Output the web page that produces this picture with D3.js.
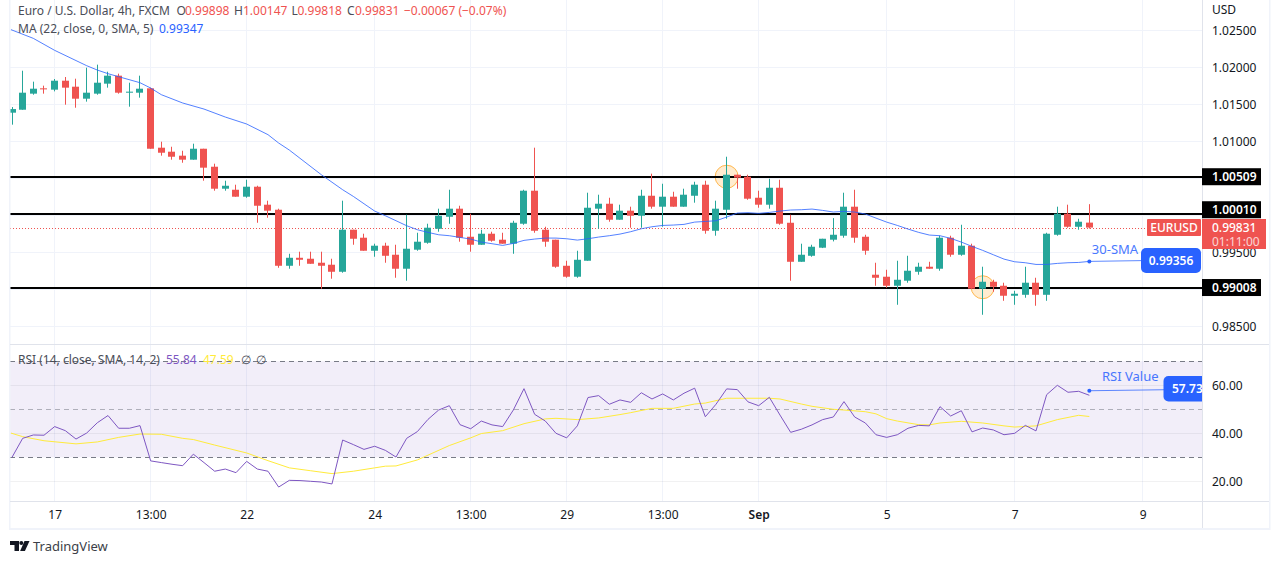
<!DOCTYPE html>
<html>
<head>
<meta charset="utf-8">
<script src="https://cdnjs.cloudflare.com/ajax/libs/d3/7.8.5/d3.min.js"></script>
<style>
  html, body { margin: 0; padding: 0; background: #fff; }
  svg { display: block; font-family: "Noto Sans", sans-serif; }
  .axis path, .axis line { display: none; }
  .axis text { fill: #131722; font-size: 12px; font-family: "Noto Sans", sans-serif; }
</style>
</head>
<body>
<svg id="chart" width="1274" height="564"></svg>
<script>
// ---- candles (bar 0 = first candle on the left)
const opens = [1.01383,1.01423,1.01640,1.01712,1.01694,1.01815,1.01734,1.01572,1.01640,1.01775,1.01883,1.01653,1.01653,1.01712,1.00910,1.00856,1.00802,1.00748,1.00896,1.00653,1.00356,1.00342,1.00248,1.00383,1.00140,1.00072,0.99315,0.99423,0.99410,0.99356,0.99329,0.99234,0.99802,0.99694,0.99518,0.99586,0.99464,0.99275,0.99532,0.99626,0.99815,0.99977,1.00086,0.99707,0.99599,0.99748,0.99667,0.99613,0.99883,1.00329,0.99802,0.99667,0.99315,0.99167,0.99383,1.00086,1.00153,0.99937,1.00059,0.99991,1.00261,1.00113,1.00248,1.00113,1.00261,1.00410,0.99788,1.00072,1.00545,1.00518,1.00234,1.00140,1.00369,0.99896,0.99369,0.99450,0.99559,0.99667,0.99721,1.00113,0.99707,0.99194,0.99167,0.99045,0.99113,0.99234,0.99302,0.99275,0.99694,0.99464,0.99586,0.99005,0.99099,0.99045,0.98910,0.98923,0.99086,0.98923,0.99734,1.00018,0.99842,0.99898];
const highs = [1.01459,1.01950,1.01802,1.01748,1.01838,1.01865,1.01842,1.01991,1.02032,1.01937,1.01910,1.01788,1.01883,1.01721,1.00991,1.00923,1.00869,1.00964,1.00896,1.00694,1.00464,1.00410,1.00477,1.00396,1.00194,1.00086,0.99477,0.99505,0.99505,0.99505,0.99410,1.00194,0.99802,0.99748,0.99613,0.99626,0.99599,1.00005,0.99761,0.99883,1.00086,1.00342,1.00126,1.00018,0.99802,0.99775,0.99761,0.99923,1.00342,1.00910,0.99842,0.99667,0.99383,0.99518,1.00302,1.00275,1.00234,1.00140,1.00113,1.00342,1.00559,1.00423,1.00315,1.00356,1.00450,1.00464,1.00194,1.00788,1.00545,1.00545,1.00329,1.00491,1.00477,1.00005,0.99613,0.99599,0.99680,0.99959,1.00302,1.00342,0.99734,0.99356,0.99261,0.99383,0.99450,0.99356,0.99369,0.99721,0.99721,0.99869,0.99613,0.99302,0.99126,0.99086,0.98977,0.99302,0.99153,0.99761,1.00113,1.00140,0.99950,1.00147];
const lows = [1.01221,1.01423,1.01626,1.01640,1.01671,1.01491,1.01450,1.01532,1.01626,1.01721,1.01640,1.01464,1.01586,1.00896,1.00802,1.00748,1.00707,1.00748,1.00464,1.00329,1.00329,1.00248,1.00234,0.99896,0.99964,0.99288,0.99275,0.99315,0.99342,0.99005,0.99140,0.99221,0.99599,0.99518,0.99437,0.99356,0.99153,0.99113,0.99518,0.99613,0.99775,0.99883,0.99640,0.99505,0.99599,0.99640,0.99613,0.99477,0.99869,0.99761,0.99572,0.99288,0.99153,0.99153,0.99383,0.99815,0.99910,0.99937,0.99829,0.99829,1.00086,0.99842,1.00113,1.00113,1.00167,0.99748,0.99721,0.99950,1.00356,1.00207,1.00099,1.00086,0.99869,0.99113,0.99369,0.99437,0.99554,0.99644,0.99694,0.99626,0.99464,0.99045,0.99018,0.98788,0.99086,0.99194,0.99275,0.99248,0.99437,0.99450,0.99005,0.98653,0.98964,0.98842,0.98788,0.98883,0.98775,0.98842,0.99721,0.99829,0.99802,0.99818];
const closes = [1.01432,1.01653,1.01707,1.01698,1.01815,1.01721,1.01572,1.01653,1.01788,1.01883,1.01653,1.01667,1.01707,1.00896,1.00842,1.00788,1.00748,1.00896,1.00640,1.00356,1.00396,1.00248,1.00383,1.00126,1.00059,0.99315,0.99423,0.99396,0.99342,0.99315,0.99234,0.99802,0.99680,0.99518,0.99586,0.99450,0.99275,0.99545,0.99640,0.99829,0.99991,1.00086,0.99694,0.99599,0.99748,0.99653,0.99613,0.99896,1.00329,0.99788,0.99640,0.99302,0.99167,0.99396,1.00099,1.00153,0.99937,1.00059,0.99991,1.00261,1.00113,1.00248,1.00113,1.00275,1.00410,0.99788,1.00086,1.00545,1.00505,1.00221,1.00140,1.00369,0.99883,0.99369,0.99464,0.99572,0.99680,0.99734,1.00113,0.99694,0.99518,0.99153,0.99045,0.99126,0.99248,0.99302,0.99275,0.99694,0.99464,0.99586,0.99005,0.99099,0.99032,0.98910,0.98937,0.99086,0.98923,0.99748,1.00018,0.99842,0.99910,0.99831];

// ---- moving average on the price pane
const maBars = [-0.1,2,4,7,8,9,10,12,13,14,16,18,20,22,24,25,26,29,31,32,34,35,37,38,39,40,41,42,43,44,45,46,47,48,49,50,51,52,53,54,55,56,57,58,59,60,61,62,63,64,65,66,67,68,69,70,71,72,73,74,75,76,77,78,79,80,81,82,83,84,85,86,87,88,89,90,91,92,93,94,95,96,97,98,99,100,101];
const maValues = [1.02505,1.02387,1.02225,1.02018,1.01959,1.01910,1.01869,1.01788,1.01716,1.01626,1.01514,1.01432,1.01324,1.01230,1.01086,1.00973,1.00878,1.00545,1.00342,1.00252,1.00054,0.99991,0.99856,0.99802,0.99766,0.99734,0.99721,0.99698,0.99676,0.99635,0.99613,0.99590,0.99617,0.99658,0.99676,0.99689,0.99689,0.99680,0.99662,0.99680,0.99703,0.99721,0.99743,0.99775,0.99815,0.99842,0.99860,0.99865,0.99874,0.99905,0.99914,0.99923,0.99973,1.00027,1.00032,1.00023,1.00036,1.00054,1.00068,1.00072,1.00081,1.00063,1.00041,1.00050,1.00041,1.00014,0.99959,0.99905,0.99860,0.99811,0.99766,0.99730,0.99721,0.99685,0.99635,0.99577,0.99523,0.99464,0.99405,0.99369,0.99356,0.99333,0.99333,0.99347,0.99356,0.99360,0.99374];

// ---- RSI pane
const rsiValues = [30,37.9,39.3,39.2,42.8,41.1,37.6,40.1,44.4,47.4,42.1,42.1,43.2,28.5,27.8,27.1,26.5,31.3,27.8,24.2,25.1,23.6,28.3,25.1,24.2,17.6,20.4,20.3,20,19.7,18.9,37.2,35.3,33.3,34.6,32.9,30.1,37.9,40.7,45.8,49.7,51.5,43.6,41.9,45.1,43.5,42.8,49.7,58.6,47.9,45.1,40,38.1,43.1,54.9,55.7,52.1,53.9,52.9,56.9,54.3,56.4,53.9,56.7,58.8,46.9,52.1,58.5,58.2,53.1,51.5,55,47.6,40.4,41.7,43.5,45.7,46.8,53.2,46.8,44.3,39.4,38.3,39.4,42.1,43.3,43.1,51.1,47.2,49.4,40.6,42.2,41.4,39.4,40,43.3,41,56.1,60,57.1,57.5,55.84];
const rsiMaBars = [-0.1,1,3,6,8,10,12,14,16,17,19,21,22,24,26,28,30,32,34,35,36,38,41,43,44,46,48,50,51,53,55,57,58,60,62,64,65,67,71,72,74,75,77,78,80,81,82,83,85,86,87,89,91,93,94,96,98,100,101];
const rsiMaValues = [40.1,38.6,36.9,35.6,36.4,38.3,39.7,39.6,37.9,37.4,35.1,32.9,31.8,28.6,25.6,24.4,23.2,24.2,25.6,26.3,26.4,28.9,34.9,38.1,39.9,41.1,44,46,46.25,45.7,46.4,47.8,48.6,50.4,50.4,52.2,52.6,54.6,54.6,54.3,52.2,51.25,50,49.7,49,48.1,46.1,45.1,43.6,43.5,44.3,45,44.3,43.1,42.6,43.1,45.7,47.5,47];
const rsiGrid = [20,40,60];
const rsiDashed = [30,50,70];
const rsiTicks = [60,40,20];

// ---- axes and drawn levels
const priceGrid = [1.025,1.02,1.015,1.01,1.005,1,0.995,0.99,0.985];
const priceTicks = [1.025,1.02,1.015,1.01,0.995,0.985]; // the rest sit under the level boxes
const timeBars = [4,13,22,34,43,52,61,70,82,94,106];
const timeLabels = ["17","13:00","22","24","13:00","29","13:00","Sep","5","7","9"];
const levelPrices = [1.00515,1.00015,0.99015];
const levelLabels = ["1.00509","1.00010","0.99008"];
const levelLabelPrices = [1.00518,1.00072,0.99021];
const circleBars = [67,91];
const circlePrices = [1.00518,0.99025];

const upColor = "#26a69a", downColor = "#ef5350", blue = "#2962ff";
const gridColor = "#f0f3fa", frameColor = "#e0e3eb";

const svg = d3.select("#chart");
const paneLeft = 10, paneRight = 1202, paneTop = 0, sep = 344.5, paneBottom = 501.5, frameBottom = 528;

const x = d3.scaleLinear().domain([0, 101]).range([12, 1089.33]);
const y = d3.scaleLinear().domain([0.985, 1.025]).range([326.1, 30]);
const rsiY = d3.scaleLinear().domain([20, 60]).range([481.3, 385.3]);
const px = d => Math.floor(x(d)) + 0.5;

// clip so that nothing runs over the price axis
svg.append("clipPath").attr("id", "pane").append("rect")
  .attr("x", paneLeft).attr("y", paneTop).attr("width", paneRight - paneLeft).attr("height", frameBottom);
const pane = svg.append("g").attr("clip-path", "url(#pane)");

// vertical grid on both panes
pane.selectAll(".vgrid").data(timeBars).join("line")
  .attr("x1", px).attr("x2", px)
  .attr("y1", paneTop).attr("y2", paneBottom)
  .attr("stroke", gridColor);

// price grid
pane.selectAll(".hgrid").data(priceGrid).join("line")
  .attr("x1", paneLeft).attr("x2", paneRight)
  .attr("y1", d => Math.round(y(d)) + 0.5).attr("y2", d => Math.round(y(d)) + 0.5)
  .attr("stroke", gridColor);

// highlight circles go under the candles
pane.selectAll(".spot").data(circleBars).join("circle")
  .attr("cx", d => x(d)).attr("cy", (d, i) => y(circlePrices[i]))
  .attr("r", 11.5)
  .attr("fill", "#ffecd0").attr("stroke", "#ffb74d").attr("stroke-width", 1);

// drawn support / resistance levels
pane.selectAll(".level").data(levelPrices).join("line")
  .attr("x1", paneLeft).attr("x2", paneRight)
  .attr("y1", d => Math.round(y(d))).attr("y2", d => Math.round(y(d)))
  .attr("stroke", "#000").attr("stroke-width", 2);

// last price line
pane.append("line")
  .attr("x1", paneLeft).attr("x2", 1147)
  .attr("y1", Math.round(y(0.99831)) + 0.5).attr("y2", Math.round(y(0.99831)) + 0.5)
  .attr("stroke", downColor).attr("stroke-dasharray", "1 2");

// candles
const candleColor = i => closes[i] >= opens[i] ? upColor : downColor;
pane.selectAll(".wick").data(opens).join("line")
  .attr("x1", (d, i) => px(i)).attr("x2", (d, i) => px(i))
  .attr("y1", (d, i) => y(highs[i])).attr("y2", (d, i) => y(lows[i]))
  .attr("stroke", (d, i) => candleColor(i));
pane.selectAll(".body").data(opens).join("rect")
  .attr("x", (d, i) => px(i) - 3.5).attr("width", 7)
  .attr("y", (d, i) => y(Math.max(d, closes[i])))
  .attr("height", (d, i) => Math.max(1, Math.abs(y(d) - y(closes[i]))))
  .attr("fill", (d, i) => candleColor(i));

// MA line
const maLine = d3.line().x((d, i) => x(maBars[i])).y(d => y(d));
pane.append("path").datum(maValues)
  .attr("d", maLine).attr("fill", "none").attr("stroke", blue).attr("stroke-opacity", 0.8).attr("stroke-width", 1);

// ---- RSI pane
pane.append("rect")
  .attr("x", paneLeft).attr("width", paneRight - paneLeft)
  .attr("y", rsiY(70)).attr("height", rsiY(30) - rsiY(70))
  .attr("fill", "#7e57c2").attr("fill-opacity", 0.1);
pane.selectAll(".rsigrid").data(rsiGrid).join("line")
  .attr("x1", paneLeft).attr("x2", paneRight)
  .attr("y1", d => Math.round(rsiY(d)) + 0.5).attr("y2", d => Math.round(rsiY(d)) + 0.5)
  .attr("stroke", "#131722").attr("stroke-opacity", 0.06);
pane.selectAll(".rsidash").data(rsiDashed).join("line")
  .attr("x1", paneLeft).attr("x2", paneRight)
  .attr("y1", d => Math.round(rsiY(d)) + 0.5).attr("y2", d => Math.round(rsiY(d)) + 0.5)
  .attr("stroke", "#787b86").attr("stroke-dasharray", "5 4")
  .attr("stroke-opacity", d => d === 50 ? 0.55 : 1);

pane.append("path").datum(rsiMaValues)
  .attr("d", d3.line().x((d, i) => x(rsiMaBars[i])).y(d => rsiY(d)))
  .attr("fill", "none").attr("stroke", "#ffeb3b").attr("stroke-width", 1);
pane.append("path").datum(rsiValues)
  .attr("d", d3.line().x((d, i) => x(i)).y(d => rsiY(d)))
  .attr("fill", "none").attr("stroke", "#7e57c2").attr("stroke-width", 1);

// frame
const frame = svg.append("g").attr("fill", "none");
frame.append("rect").attr("x", 9).attr("y", 528).attr("width", 1261).attr("height", 2).attr("fill", gridColor);
frame.append("rect").attr("x", 9).attr("y", 0).attr("width", 1.5).attr("height", 530).attr("fill", gridColor);
frame.append("rect").attr("x", 1269).attr("y", 0).attr("width", 1.5).attr("height", 530).attr("fill", gridColor);
frame.append("line").attr("x1", paneLeft).attr("x2", 1269).attr("y1", sep).attr("y2", sep).attr("stroke", frameColor);
frame.append("line").attr("x1", paneLeft).attr("x2", 1269).attr("y1", paneBottom).attr("y2", paneBottom).attr("stroke", frameColor);
frame.append("line").attr("x1", paneRight + 0.5).attr("x2", paneRight + 0.5).attr("y1", 0).attr("y2", frameBottom).attr("stroke", frameColor);

// ---- axes
svg.append("g").attr("class", "axis")
  .attr("transform", `translate(${paneRight},0)`)
  .call(d3.axisRight(y).tickValues(priceTicks).tickFormat(d3.format(".5f")).tickSize(0).tickPadding(10))
  .selectAll("text").attr("dy", "0.4em");
svg.append("g").attr("class", "axis")
  .attr("transform", `translate(${paneRight},0)`)
  .call(d3.axisRight(rsiY).tickValues(rsiTicks).tickFormat(d3.format(".2f")).tickSize(0).tickPadding(10))
  .selectAll("text").attr("dy", "0.32em");
svg.append("g").attr("class", "axis")
  .attr("transform", `translate(0,${paneBottom})`)
  .call(d3.axisBottom(x).tickValues(timeBars).tickFormat((d, i) => timeLabels[i]).tickSize(0).tickPadding(9))
  .selectAll("text").attr("font-weight", (d, i) => timeLabels[i] === "Sep" ? 600 : null);

const label = (t, lx, ly, color, opts = {}) => svg.append("text")
  .attr("x", lx).attr("y", ly + 1).attr("fill", color)
  .attr("font-size", opts.size || 12).attr("font-weight", opts.weight || null)
  .attr("text-anchor", opts.anchor || "start").attr("opacity", opts.opacity || null)
  .attr("dominant-baseline", "middle").text(t);

label("USD", 1212, 9.5, "#131722");

// level boxes on the axis
levelLabels.forEach((t, i) => {
  const cy = y(levelLabelPrices[i]);
  svg.append("rect").attr("x", 1202).attr("y", cy - 8.5).attr("width", 59).attr("height", 17).attr("fill", "#000");
  label(t, 1212, cy + 0.5, "#fff", { weight: 600 });
});

// symbol tag and last price box
svg.append("rect").attr("x", 1147).attr("y", 219).attr("width", 54).attr("height", 17).attr("rx", 1).attr("fill", downColor);
label("EURUSD", 1174, 228, "#fff", { anchor: "middle", weight: 500 });
svg.append("rect").attr("x", 1202).attr("y", 219).attr("width", 64).attr("height", 30).attr("fill", downColor);
label("0.99831", 1212, 228, "#fff", { weight: 500 });
label("01:11:00", 1212, 241.5, "#fff", { opacity: 0.75 });

// 30-SMA callout
const smaPrice = 0.99374, rsiCallout = 57.73;
svg.append("line").attr("x1", x(101)).attr("x2", 1142)
  .attr("y1", y(smaPrice)).attr("y2", y(smaPrice) - 0.8).attr("stroke", blue).attr("stroke-opacity", 0.75);
svg.append("circle").attr("cx", x(101)).attr("cy", y(smaPrice)).attr("r", 2).attr("fill", blue);
label("30-SMA", 1115, 249.5, blue, { anchor: "middle", size: 13 }).attr("opacity", 0.85);
svg.append("rect").attr("x", 1141).attr("y", 248).attr("width", 60).attr("height", 25).attr("rx", 5).attr("fill", blue);
label("0.99356", 1171, 260.5, "#fff", { anchor: "middle", weight: 600 });

// RSI callout
svg.append("line").attr("x1", x(101)).attr("x2", 1164)
  .attr("y1", rsiY(rsiCallout)).attr("y2", rsiY(rsiCallout) - 1).attr("stroke", blue).attr("stroke-opacity", 0.75);
svg.append("circle").attr("cx", x(101)).attr("cy", rsiY(rsiCallout)).attr("r", 2).attr("fill", blue);
label("RSI Value", 1102, 377, blue, { size: 13 }).attr("opacity", 0.85);
const rsiBox = svg.append("g").attr("clip-path", "url(#pane)");
rsiBox.append("rect").attr("x", 1163.5).attr("y", 376).attr("width", 45).attr("height", 25.5).attr("rx", 5).attr("fill", blue);
label("57.73", 1172, 388.5, "#fff", { weight: 600 });

// ---- legends
const gray = "#4a4d57";
label("Euro / U.S. Dollar, 4h, FXCM", 18, 11, gray);
[["O", 176.5, "0.99898", 185], ["H", 234, "1.00147", 243], ["L", 291.5, "0.99818", 297.5], ["C", 347, "0.99831", 355]].forEach(d => {
  label(d[0], d[1], 11, gray);
  label(d[2], d[3], 11, downColor);
});
label("\u22120.00067 (\u22120.07%)", 404, 11, downColor);
label("MA (22, close, 0, SMA, 5)", 18, 28.5, gray);
label("0.99347", 159, 28.5, blue);

label("RSI (14, close, SMA, 14, 2)", 18, 360, gray);
label("55.84", 166, 360, "#7e57c2");
label("47.59", 203, 360, "#ffeb3b");
label("\u2205", 241, 360, gray);
label("\u2205", 256, 360, gray);

// ---- TradingView mark
const logo = svg.append("g").attr("fill", "#131722");
logo.append("path").attr("d", "M10 541h9v10h-4.5v-6h-4.5z");
logo.append("circle").attr("cx", 21.3).attr("cy", 543).attr("r", 2);
logo.append("path").attr("d", "M24.5 541h5l-4.6 10h-4.8z");
label("TradingView", 33, 546.5, "#3c3f48", { size: 13 });
</script>
</body>
</html>
